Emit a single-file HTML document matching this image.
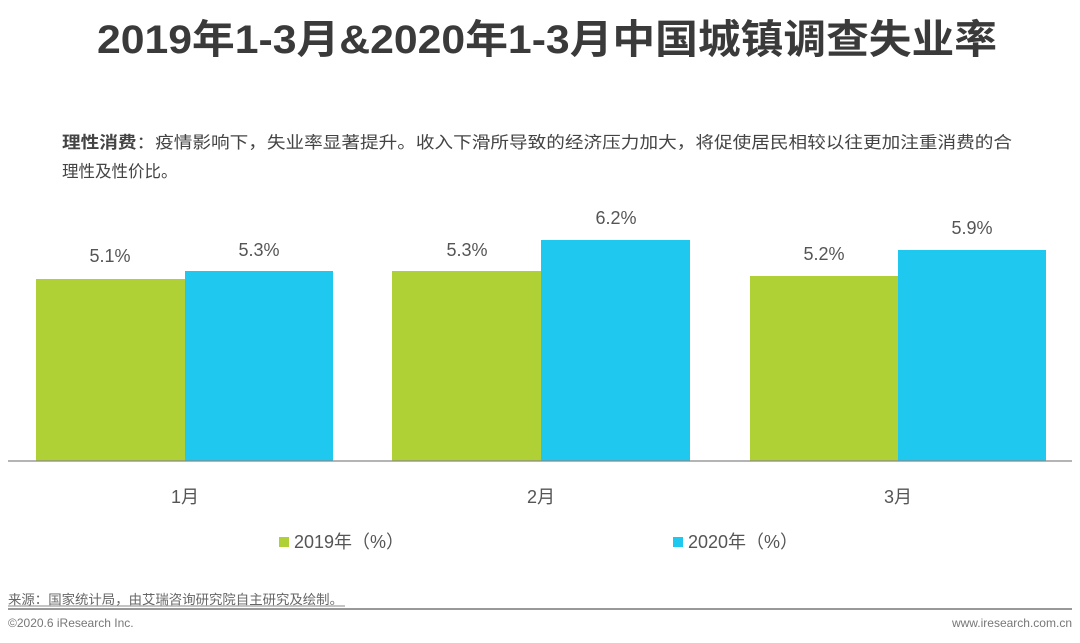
<!DOCTYPE html>
<html><head><meta charset="utf-8"><style>
html,body{margin:0;padding:0;background:#fff;}
svg{display:block;font-family:"Liberation Sans","Noto Sans CJK SC",sans-serif;}
</style></head><body>
<svg width="1080" height="643" viewBox="0 0 1080 643">
<text x="547" y="53" text-anchor="middle" font-size="40" font-weight="bold" fill="#3a3a3a" textLength="900" lengthAdjust="spacingAndGlyphs">2019年1-3月&amp;2020年1-3月中国城镇调查失业率</text>
<text x="62" y="148" font-size="16.5" fill="#444" textLength="950" lengthAdjust="spacingAndGlyphs"><tspan font-weight="bold">理性消费</tspan>：疫情影响下，失业率显著提升。收入下滑所导致的经济压力加大，将促使居民相较以往更加注重消费的合</text>
<text x="62" y="177" font-size="16.5" fill="#444">理性及性价比。</text>
<g fill="#b0d135">
<rect x="36" y="279" width="149" height="182"/>
<rect x="392" y="271" width="149" height="190"/>
<rect x="750" y="276" width="148" height="185"/>
</g>
<g fill="#1ec8ef">
<rect x="185" y="271" width="148" height="190"/>
<rect x="541" y="240" width="149" height="221"/>
<rect x="898" y="250" width="148" height="211"/>
</g>
<line x1="8" y1="461" x2="1072" y2="461" stroke="#888" stroke-width="1.2"/>
<g font-size="18" fill="#555" text-anchor="middle">
<text x="110" y="262">5.1%</text>
<text x="259" y="256">5.3%</text>
<text x="467" y="256">5.3%</text>
<text x="616" y="224">6.2%</text>
<text x="824" y="260">5.2%</text>
<text x="972" y="234">5.9%</text>
<text x="185" y="503">1月</text>
<text x="541" y="503">2月</text>
<text x="898" y="503">3月</text>
</g>
<rect x="279" y="537" width="10" height="10" fill="#b0d135"/>
<text x="294" y="548" font-size="18" fill="#555">2019年（%）</text>
<rect x="673" y="537" width="10" height="10" fill="#1ec8ef"/>
<text x="688" y="548" font-size="18" fill="#555">2020年（%）</text>
<text x="8" y="604" font-size="13" fill="#666" textLength="335" lengthAdjust="spacingAndGlyphs">来源：国家统计局，由艾瑞咨询研究院自主研究及绘制。</text>
<line x1="8" y1="606" x2="345" y2="606" stroke="#888" stroke-width="1"/>
<line x1="8" y1="609" x2="1072" y2="609" stroke="#999" stroke-width="2"/>
<text x="8" y="627" font-size="12" fill="#777">©2020.6 iResearch Inc.</text>
<text x="1072" y="627" font-size="12" fill="#777" text-anchor="end">www.iresearch.com.cn</text>
</svg>
</body></html>
